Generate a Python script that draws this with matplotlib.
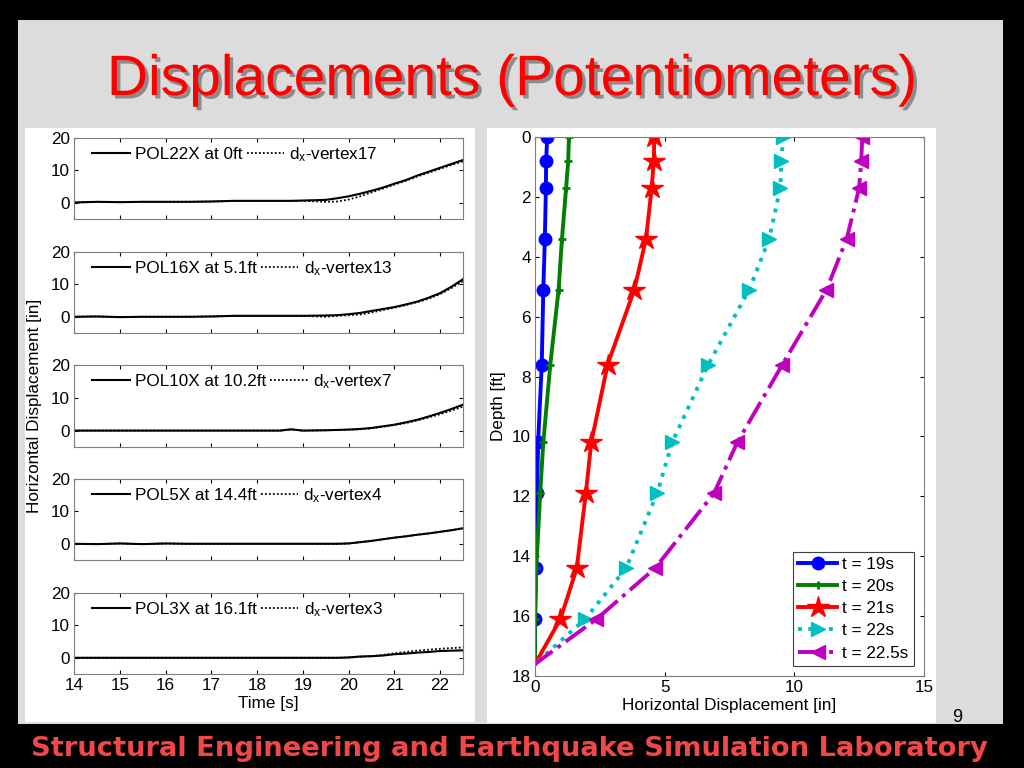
import numpy as np
import matplotlib
matplotlib.use("Agg")
import matplotlib.pyplot as plt
from matplotlib.patches import Rectangle
import matplotlib.patheffects as pe

plt.rcParams['font.family'] = ['Liberation Sans', 'DejaVu Sans']

# time series (left panels)
time_s = [14.0, 14.5, 15.0, 15.5, 16.0, 16.5, 17.0, 17.5, 18.0, 18.5, 18.75, 19.0, 19.5,
          19.75, 20.0, 20.25, 20.5, 20.75, 21.0, 21.25, 21.5, 21.75, 22.0, 22.25, 22.5]

pol22x = [0.1, 0.3, 0.2, 0.3, 0.3, 0.3, 0.4, 0.6, 0.6, 0.6, 0.6, 0.7, 0.9,
          1.4, 2.0, 2.8, 3.7, 4.7, 5.9, 7.0, 8.4, 9.6, 10.8, 12.0, 13.2]
vtx17 = [0.1, 0.3, 0.2, 0.3, 0.3, 0.3, 0.4, 0.6, 0.6, 0.6, 0.6, 0.6, 0.3,
         0.4, 1.0, 2.0, 3.2, 4.4, 5.6, 6.8, 8.1, 9.3, 10.5, 11.7, 12.8]

pol16x = [0.0, 0.1, -0.1, 0.0, 0.0, 0.0, 0.1, 0.3, 0.3, 0.3, 0.3, 0.3, 0.4,
          0.5, 0.8, 1.2, 1.8, 2.4, 3.0, 3.8, 4.7, 5.9, 7.3, 9.3, 11.6]
vtx13 = [0.0, 0.1, -0.1, 0.0, 0.0, 0.0, 0.1, 0.3, 0.3, 0.3, 0.3, 0.3, 0.0,
         0.3, 0.5, 0.7, 1.3, 2.1, 2.8, 3.6, 4.5, 5.6, 7.0, 8.9, 11.0]

pol10x = [0.0, 0.0, 0.0, 0.0, 0.0, 0.0, 0.0, 0.0, 0.0, 0.0, 0.4, 0.0, 0.1,
          0.2, 0.3, 0.5, 0.8, 1.3, 1.8, 2.5, 3.3, 4.3, 5.4, 6.6, 7.9]
vtx7 = [0.0, 0.0, 0.0, 0.0, 0.0, 0.0, 0.0, 0.0, 0.0, 0.0, 0.3, 0.0, 0.1,
        0.2, 0.3, 0.4, 0.7, 1.2, 1.7, 2.3, 3.1, 4.0, 5.0, 6.1, 7.3]

pol5x = [0.0, -0.1, 0.1, -0.1, 0.1, 0.0, 0.0, 0.0, 0.0, 0.0, 0.0, 0.0, 0.0,
         0.0, 0.1, 0.5, 0.9, 1.4, 1.9, 2.3, 2.8, 3.2, 3.7, 4.2, 4.8]
vtx4 = [0.0, -0.1, 0.1, -0.1, 0.1, 0.0, 0.0, 0.0, 0.0, 0.0, 0.0, 0.0, 0.0,
        0.0, 0.1, 0.5, 0.9, 1.4, 1.9, 2.3, 2.8, 3.2, 3.7, 4.2, 4.7]

pol3x = [0.0, 0.0, 0.0, 0.0, 0.0, 0.0, 0.0, 0.0, 0.0, 0.0, 0.0, 0.0, 0.0,
         0.0, 0.1, 0.4, 0.5, 0.7, 1.1, 1.3, 1.6, 1.8, 2.1, 2.2, 2.3]
vtx3 = [0.0, 0.0, 0.0, 0.0, 0.0, 0.0, 0.0, 0.0, 0.0, 0.0, 0.0, 0.0, 0.0,
        0.0, 0.1, 0.3, 0.5, 0.9, 1.4, 1.8, 2.2, 2.5, 2.8, 3.0, 3.2]

sensor_labels = ['POL22X at 0ft', 'POL16X at 5.1ft', 'POL10X at 10.2ft',
                 'POL5X at 14.4ft', 'POL3X at 16.1ft']
vertex_labels = ['$\\mathregular{d_x}$-vertex17', '$\\mathregular{d_x}$-vertex13',
                 '$\\mathregular{d_x}$-vertex7', '$\\mathregular{d_x}$-vertex4',
                 '$\\mathregular{d_x}$-vertex3']
measured = [pol22x, pol16x, pol10x, pol5x, pol3x]
computed = [vtx17, vtx13, vtx7, vtx4, vtx3]

# displacement profiles (right panel)
depth_ft = [0.0, 0.8, 1.7, 3.4, 5.1, 7.6, 10.2, 11.9, 14.4, 16.1, 17.6]
disp_19 = [0.47, 0.43, 0.42, 0.38, 0.32, 0.26, 0.12, 0.08, 0.04, 0.0, 0.0]
disp_20 = [1.31, 1.28, 1.20, 1.04, 0.91, 0.59, 0.32, 0.20, 0.05, 0.0, 0.0]
disp_21 = [4.60, 4.58, 4.50, 4.28, 3.83, 2.80, 2.17, 1.96, 1.61, 0.98, 0.0]
disp_22 = [9.57, 9.50, 9.46, 9.03, 8.26, 6.68, 5.29, 4.71, 3.51, 1.93, 0.0]
disp_225 = [12.62, 12.58, 12.50, 12.02, 11.24, 9.54, 7.80, 6.90, 4.63, 2.37, 0.0]
profile_labels = ['t = 19s', 't = 20s', 't = 21s', 't = 22s', 't = 22.5s']

FS = 12.3


def fx(px):
    return px / 1024.0


def fy(py):
    return 1.0 - py / 768.0


def box(x0, y0, x1, y1):
    return [fx(x0), fy(y1), fx(x1) - fx(x0), fy(y0) - fy(y1)]


def matlab_axes(ax):
    for s in ax.spines.values():
        s.set_color('#7f7f7f')
        s.set_linewidth(0.8)
    ax.tick_params(direction='in', length=3, width=0.8, top=True, right=True,
                   labelsize=FS, colors='black', pad=3)


fig = plt.figure(figsize=(10.24, 7.68), dpi=100, facecolor='black')

# slide background and panels
fig.patches.append(Rectangle((fx(18), fy(724)), fx(1003) - fx(18), fy(20) - fy(724),
                             transform=fig.transFigure, facecolor='#dcdcdc',
                             edgecolor='none', zorder=-10))
for (x0, y0, x1, y1) in [(25, 128, 475, 722), (487, 128, 936, 723)]:
    fig.patches.append(Rectangle((fx(x0), fy(y1)), fx(x1) - fx(x0), fy(y0) - fy(y1),
                                 transform=fig.transFigure, facecolor='white',
                                 edgecolor='none', zorder=-9))

fig.text(0.5, fy(80), 'Displacements (Potentiometers)', color='#ff0000',
         fontsize=41, ha='center', va='center',
         path_effects=[pe.withSimplePatchShadow(offset=(2.5, -2.5),
                                                shadow_rgbFace='#555555', alpha=0.6)])
fig.text(fx(509), fy(749), 'Structural Engineering and Earthquake Simulation Laboratory',
         color='#f04848', fontsize=19.7, fontweight='bold', ha='center', va='center',
         family=['DejaVu Sans'])
fig.text(fx(957), fy(717), '9', color='black', fontsize=13, ha='center', va='center')

# left stacked time-history panels
panel_rows = [(138, 219), (252, 333), (365, 447), (479, 560), (593, 674)]
for i, (top, bot) in enumerate(panel_rows):
    ax = fig.add_axes(box(74, top, 463, bot))
    ax.plot(time_s, measured[i], color='black', lw=1.5, ls='-', label=sensor_labels[i])
    ax.plot(time_s, computed[i], color='black', lw=1.3, ls=(0, (1, 1.2)),
            label=vertex_labels[i])
    ax.set_xlim(14, 22.5)
    ax.set_ylim(-5, 20)
    ax.set_yticks([0, 10, 20])
    ax.set_xticks(np.arange(14, 23, 1))
    matlab_axes(ax)
    if i < 4:
        ax.set_xticklabels([])
    else:
        ax.set_xlabel('Time [s]', fontsize=FS, labelpad=2)
    ax.legend(loc='upper left', ncol=2, frameon=False, fontsize=FS,
              handlelength=2.2, columnspacing=0.25, handletextpad=0.3,
              borderaxespad=0.2, bbox_to_anchor=(0.02, 1.04))

fig.text(fx(35), fy(406), 'Horizontal Displacement [in]', rotation=90,
         fontsize=FS, ha='center', va='center')

# right depth profile panel
axr = fig.add_axes(box(535, 137, 924, 676))
axr.plot(disp_19, depth_ft, color='#0000ff', lw=2.8, ls='-', marker='o', ms=9,
         markevery=list(range(10)), label=profile_labels[0])
axr.plot(disp_20, depth_ft, color='#007f00', lw=2.8, ls='-', marker='+', ms=6, mew=2,
         markevery=list(range(10)), label=profile_labels[1])
axr.plot(disp_21, depth_ft, color='#ff0000', lw=2.8, ls='-', marker='*', ms=16,
         markevery=list(range(10)), label=profile_labels[2])
axr.plot(disp_22, depth_ft, color='#00bfbf', lw=2.8, ls=':', marker='>', ms=10,
         markevery=list(range(10)), label=profile_labels[3])
axr.plot(disp_225, depth_ft, color='#bf00bf', lw=2.8, ls='-.', marker='<', ms=10,
         markevery=list(range(10)), label=profile_labels[4])
axr.set_xlim(0, 15)
axr.set_ylim(18, 0)
axr.set_xticks([0, 5, 10, 15])
axr.set_yticks(np.arange(0, 19, 2))
matlab_axes(axr)
axr.set_xlabel('Horizontal Displacement [in]', fontsize=FS, labelpad=2)
axr.set_ylabel('Depth [ft]', fontsize=FS, labelpad=4)
leg = axr.legend(loc='lower right', fontsize=FS, handlelength=2.3, handletextpad=0.3,
                 borderaxespad=0.6, fancybox=False, framealpha=1, labelspacing=0.42,
                 borderpad=0.3)
leg.get_frame().set_edgecolor('#404040')
leg.get_frame().set_linewidth(0.8)

fig.savefig('out.png', dpi=100, facecolor=fig.get_facecolor())
